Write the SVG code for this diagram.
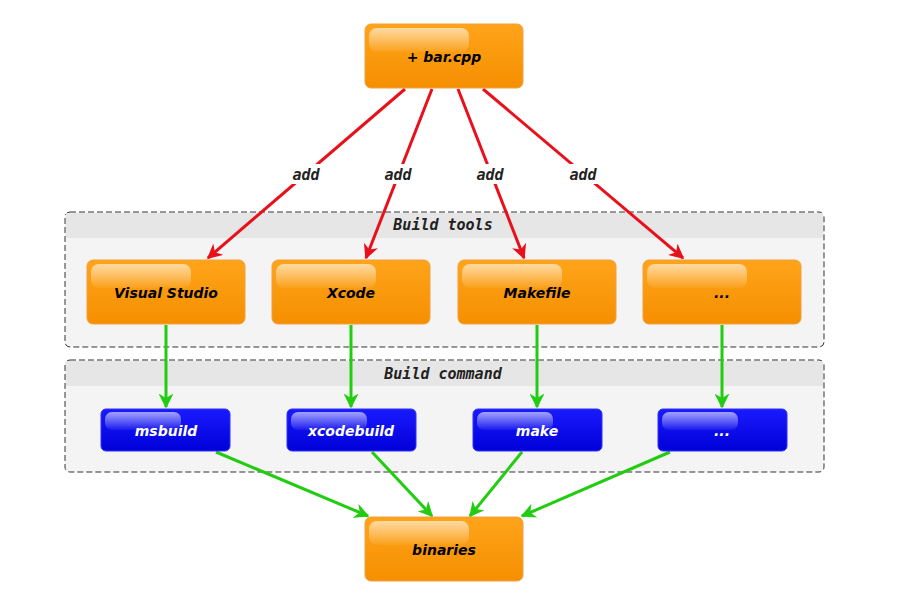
<svg xmlns="http://www.w3.org/2000/svg" width="909" height="602" viewBox="0 0 909 602">
<defs>
<linearGradient id="og" x1="0" y1="0" x2="0" y2="1"><stop offset="0" stop-color="#ffa41a"/><stop offset="1" stop-color="#f58f00"/></linearGradient>
<linearGradient id="hl" x1="0" y1="0" x2="0" y2="1"><stop offset="0" stop-color="#fff" stop-opacity="0.6"/><stop offset="1" stop-color="#fff" stop-opacity="0.05"/></linearGradient>
<linearGradient id="bg" x1="0" y1="0" x2="0" y2="1"><stop offset="0" stop-color="#1a1aff"/><stop offset="1" stop-color="#0000d8"/></linearGradient>
<marker id="ar" viewBox="0 0 10 10" refX="9" refY="5" markerWidth="5" markerHeight="5" orient="auto"><path d="M0,0 L10,5 L0,10 L3,5 z" fill="#e8101a"/></marker>
<marker id="ag" viewBox="0 0 10 10" refX="9" refY="5" markerWidth="5" markerHeight="5" orient="auto"><path d="M0,0 L10,5 L0,10 L3,5 z" fill="#22cc11"/></marker>
</defs>
<style>
.o{fill:url(#og);stroke:#f0a040;stroke-width:1}
.b{fill:url(#bg);stroke:#3030ff;stroke-width:1}
.h{fill:url(#hl)}
.t{font-family:"DejaVu Sans",sans-serif;font-style:italic;font-weight:bold;font-size:14px;text-anchor:middle}
.tw{fill:#fff}
.m{font-family:"DejaVu Sans Mono",monospace;font-style:italic;font-weight:bold;font-size:15px;text-anchor:middle;fill:#222}
.grp{fill:#f4f4f4;stroke:#333;stroke-width:1;stroke-dasharray:6,3}
.r{stroke:#e8101a;stroke-width:3;fill:none;marker-end:url(#ar)}
.g{stroke:#22cc11;stroke-width:3;fill:none;marker-end:url(#ag)}
</style>
<rect width="909" height="602" fill="#fff"/>
<g id="grp-tools"><rect class="grp" x="65" y="212" width="759" height="135" rx="5"/><rect x="66" y="213" width="757" height="25" fill="#e6e6e6"/><text class="m" x="443" y="230">Build tools</text></g>
<g id="grp-cmd"><rect class="grp" x="65" y="360" width="759" height="112" rx="5"/><rect x="66" y="361" width="757" height="25" fill="#e6e6e6"/><text class="m" x="443" y="379">Build command</text></g>
<g id="connectors">
<path class="r" d="M405,89 L208,258"/>
<path class="r" d="M432,89 L366,258"/>
<path class="r" d="M458,89 L524,258"/>
<path class="r" d="M483,89 L683,258"/>
<g fill="#fff"><rect x="286" y="164" width="40" height="20"/><rect x="378" y="164" width="40" height="20"/><rect x="470" y="164" width="40" height="20"/><rect x="563" y="164" width="40" height="20"/></g>
<text class="m" x="306" y="180">add</text><text class="m" x="398" y="180">add</text><text class="m" x="490" y="180">add</text><text class="m" x="583" y="180">add</text>
<path class="g" d="M166,325 L166,407"/>
<path class="g" d="M351,325 L351,407"/>
<path class="g" d="M537,325 L537,407"/>
<path class="g" d="M722,325 L722,407"/>
<path class="g" d="M216,452 L368,516"/>
<path class="g" d="M372,452 L432,516"/>
<path class="g" d="M522,452 L470,516"/>
<path class="g" d="M670,452 L522,516"/>
</g>
<g id="n-bar"><rect class="o" x="365" y="24" width="158" height="64" rx="6"/><rect class="h" x="369" y="28" width="100" height="24" rx="8"/><text class="t" x="444" y="62">+ bar.cpp</text></g>
<g id="n-vs"><rect class="o" x="87" y="260" width="158" height="64" rx="6"/><rect class="h" x="91" y="264" width="100" height="24" rx="8"/><text class="t" x="166" y="298">Visual Studio</text></g>
<g id="n-xcode"><rect class="o" x="272" y="260" width="158" height="64" rx="6"/><rect class="h" x="276" y="264" width="100" height="24" rx="8"/><text class="t" x="351" y="298">Xcode</text></g>
<g id="n-make"><rect class="o" x="458" y="260" width="158" height="64" rx="6"/><rect class="h" x="462" y="264" width="100" height="24" rx="8"/><text class="t" x="537" y="298">Makefile</text></g>
<g id="n-etc"><rect class="o" x="643" y="260" width="158" height="64" rx="6"/><rect class="h" x="647" y="264" width="100" height="24" rx="8"/><text class="t" x="722" y="298">...</text></g>
<g id="n-msbuild"><rect class="b" x="101" y="409" width="129" height="42" rx="5"/><rect class="h" x="105" y="412" width="76" height="18" rx="7"/><text class="t tw" x="166" y="436">msbuild</text></g>
<g id="n-xcodebuild"><rect class="b" x="287" y="409" width="129" height="42" rx="5"/><rect class="h" x="291" y="412" width="76" height="18" rx="7"/><text class="t tw" x="351" y="436">xcodebuild</text></g>
<g id="n-mk"><rect class="b" x="473" y="409" width="129" height="42" rx="5"/><rect class="h" x="477" y="412" width="76" height="18" rx="7"/><text class="t tw" x="537" y="436">make</text></g>
<g id="n-etc2"><rect class="b" x="658" y="409" width="129" height="42" rx="5"/><rect class="h" x="662" y="412" width="76" height="18" rx="7"/><text class="t tw" x="722" y="436">...</text></g>
<g id="n-bin"><rect class="o" x="365" y="517" width="158" height="64" rx="6"/><rect class="h" x="369" y="521" width="100" height="24" rx="8"/><text class="t" x="444" y="555">binaries</text></g>
</svg>
